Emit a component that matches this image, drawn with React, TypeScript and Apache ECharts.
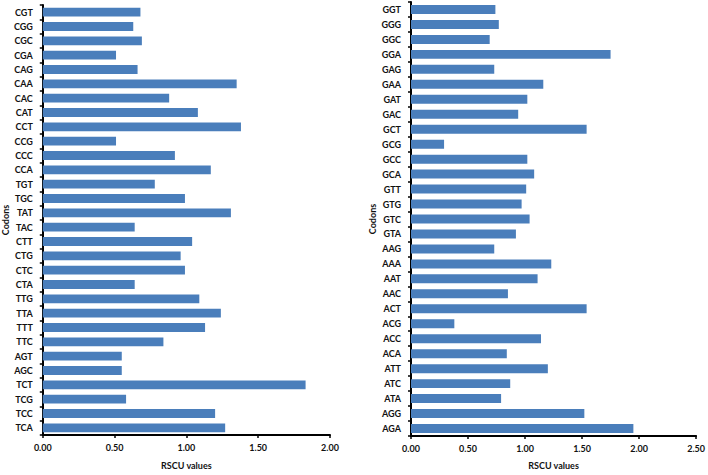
import React, { useEffect, useRef } from "react";
import * as echarts from "echarts";

// Left panel codons (bottom to top)
const leftCodons = [
  "TCA", "TCC", "TCG", "TCT", "AGC", "AGT", "TTC", "TTT", "TTA", "TTG",
  "CTA", "CTC", "CTG", "CTT", "TAC", "TAT", "TGC", "TGT", "CCA", "CCC",
  "CCG", "CCT", "CAT", "CAC", "CAA", "CAG", "CGA", "CGC", "CGG", "CGT",
];
const leftValues = [
  1.27, 1.2, 0.58, 1.83, 0.55, 0.55, 0.84, 1.13, 1.24, 1.09,
  0.64, 0.99, 0.96, 1.04, 0.64, 1.31, 0.99, 0.78, 1.17, 0.92,
  0.51, 1.38, 1.08, 0.88, 1.35, 0.66, 0.51, 0.69, 0.63, 0.68,
];

// Right panel codons (bottom to top)
const rightCodons = [
  "AGA", "AGG", "ATA", "ATC", "ATT", "ACA", "ACC", "ACG", "ACT", "AAC",
  "AAT", "AAA", "AAG", "GTA", "GTC", "GTG", "GTT", "GCA", "GCC", "GCG",
  "GCT", "GAC", "GAT", "GAA", "GAG", "GGA", "GGC", "GGG", "GGT",
];
const rightValues = [
  1.95, 1.52, 0.79, 0.87, 1.2, 0.84, 1.14, 0.38, 1.54, 0.85,
  1.11, 1.23, 0.73, 0.92, 1.04, 0.97, 1.01, 1.08, 1.02, 0.29,
  1.54, 0.94, 1.02, 1.16, 0.73, 1.75, 0.69, 0.77, 0.74,
];

const leftMax = 2;
const rightMax = 2.5;
const tickStep = 0.5;

const FONT = "Lato";
const BAR = "#4A7EBB";

export default function App() {
  const ref = useRef<HTMLDivElement>(null);
  useEffect(() => {
    document.body.style.margin = "0";
    const chart = echarts.init(ref.current!, null, { renderer: "svg" });
    const labelStyle = {
      color: "#111",
      fontFamily: FONT,
      fontWeight: "bold" as const,
      fontSize: 9,
    };
    const yAxisCommon = {
      type: "category" as const,
      axisLine: { show: true, lineStyle: { color: "#000", width: 2 } },
      axisTick: { show: true, inside: false, length: 3, lineStyle: { color: "#000", width: 1.5 } },
      axisLabel: { ...labelStyle, margin: 10 },
      splitLine: { show: false },
      name: "Codons",
      nameLocation: "middle" as const,
      nameRotate: 90,
      nameGap: 32,
      nameTextStyle: { ...labelStyle },
    };
    const xAxisCommon = {
      type: "value" as const,
      min: 0,
      interval: tickStep,
      axisLine: { show: true, lineStyle: { color: "#000", width: 2 } },
      axisTick: { show: true, inside: false, length: 3, lineStyle: { color: "#000", width: 1.5 } },
      axisLabel: { ...labelStyle, margin: 8, formatter: (v: number) => v.toFixed(2) },
      splitLine: { show: false },
      name: "RSCU values",
      nameLocation: "middle" as const,
      nameTextStyle: { ...labelStyle },
    };
    chart.setOption({
      animation: false,
      grid: [
        { left: 41, right: 378, top: 5, bottom: 34, containLabel: false },
        { left: 411, right: 9, top: 2, bottom: 38, containLabel: false },
      ],
      xAxis: [
        { ...xAxisCommon, gridIndex: 0, max: leftMax, nameGap: 26 },
        { ...xAxisCommon, gridIndex: 1, max: rightMax, nameGap: 25 },
      ],
      yAxis: [
        { ...yAxisCommon, gridIndex: 0, data: leftCodons },
        { ...yAxisCommon, gridIndex: 1, data: rightCodons },
      ],
      series: [
        {
          type: "bar",
          xAxisIndex: 0,
          yAxisIndex: 0,
          data: leftValues,
          barCategoryGap: "38%",
          itemStyle: { color: BAR },
        },
        {
          type: "bar",
          xAxisIndex: 1,
          yAxisIndex: 1,
          data: rightValues,
          barCategoryGap: "40%",
          itemStyle: { color: BAR },
        },
      ],
    });
    return () => chart.dispose();
  }, []);
  return <div ref={ref} style={{ width: 708, height: 475, background: "#fff" }} />;
}
